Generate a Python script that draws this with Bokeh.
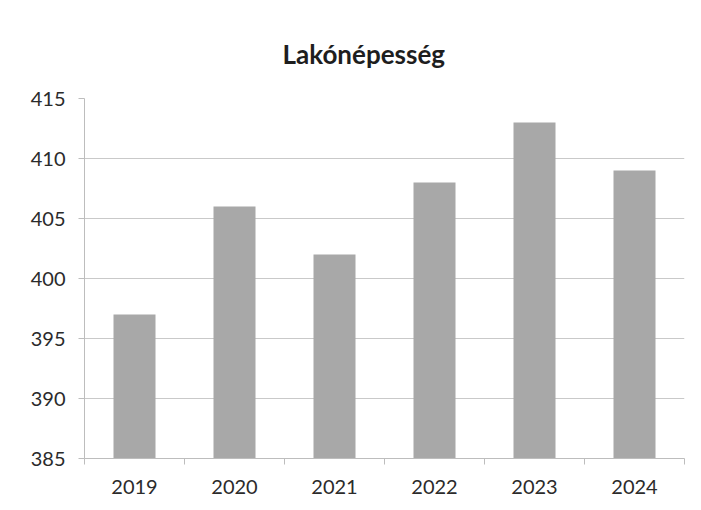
from bokeh.plotting import figure
from bokeh.models import Range1d, LinearAxis, FixedTicker
from bokeh.embed import file_html
from bokeh.resources import INLINE

years = [2019, 2020, 2021, 2022, 2023, 2024]
values = [397, 406, 402, 408, 413, 409]
y_ticks = [385, 390, 395, 400, 405, 410, 415]
title_text = "Lakónépesség"

FONT = "Lato"
TXT = "#2b2b2b"
AX = "#bdbdbd"

x_lo, x_hi = years[0] - 0.5, years[-1] + 0.5
boundaries = [y - 0.5 for y in years] + [x_hi]

p = figure(
    x_range=Range1d(x_lo, x_hi),
    y_range=Range1d(y_ticks[0], y_ticks[-1]),
    width=693, height=502,
    output_backend="svg", toolbar_location=None,
    x_axis_location=None,
    min_border_left=84, min_border_right=9, min_border_top=98, min_border_bottom=44,
)
p.outline_line_color = None
p.background_fill_color = "white"
p.border_fill_color = "white"

p.vbar(x=years, top=values, bottom=y_ticks[0], width=0.42,
       fill_color="#a8a8a8", line_color=None)

# y axis
p.yaxis.ticker = FixedTicker(ticks=y_ticks)
p.yaxis.axis_line_color = AX
p.yaxis.major_tick_line_color = AX
p.yaxis.major_tick_out = 6
p.yaxis.major_tick_in = 0
p.yaxis.minor_tick_line_color = None
p.yaxis.major_label_standoff = 13
p.yaxis.major_label_text_font = FONT
p.yaxis.major_label_text_font_size = "20px"
p.yaxis.major_label_text_color = TXT

p.xgrid.grid_line_color = None
p.ygrid.ticker = FixedTicker(ticks=y_ticks)
p.ygrid.grid_line_color = "#c9c9c9"

# x axis: boundary ticks + category labels
ax1 = LinearAxis(ticker=FixedTicker(ticks=boundaries),
                 major_label_overrides={b: "" for b in boundaries},
                 axis_line_color=AX,
                 major_tick_line_color=AX, major_tick_out=6, major_tick_in=0,
                 minor_tick_line_color=None, major_label_standoff=0)
p.add_layout(ax1, "below")
ax2 = LinearAxis(ticker=FixedTicker(ticks=years),
                 major_label_overrides={y: str(y) for y in years},
                 axis_line_color=None, major_tick_line_color=None, minor_tick_line_color=None,
                 major_label_text_font=FONT, major_label_text_font_size="20px",
                 major_label_text_color=TXT, major_label_standoff=9)
p.add_layout(ax2, "below")

p.title.text = title_text
p.title.align = "left"
p.title.text_font = FONT
p.title.text_font_size = "26px"
p.title.text_font_style = "bold"
p.title.text_color = "#1e1e1e"
p.title.standoff = 58
p.title.offset = 198

open("out.html", "w").write(file_html(p, INLINE))
